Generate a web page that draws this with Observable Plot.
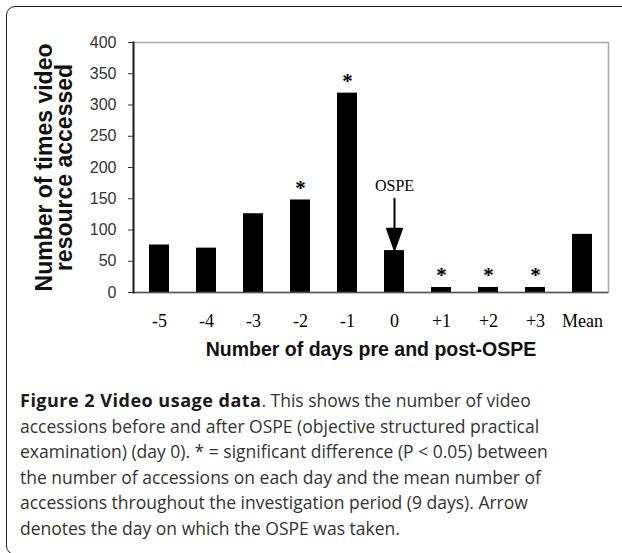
<!DOCTYPE html>
<html>
<head>
<meta charset="utf-8">
<script src="https://cdn.jsdelivr.net/npm/d3@7"></script>
<script src="https://cdn.jsdelivr.net/npm/@observablehq/plot@0.6"></script>
<style>
  html, body { margin: 0; padding: 0; background: #fff; }
  body { width: 622px; height: 553px; overflow: hidden; position: relative; }
  #frame { position: absolute; left: 6px; top: 6px; width: 700px; height: 549px;
           border: 1.5px solid #222; border-radius: 9px; box-sizing: border-box; }
  #chart { position: absolute; left: 0; top: 0; }
  #caption { position: absolute; left: 20px; top: 388px; font-family: "Open Sans", sans-serif;
             font-size: 17.5px; line-height: 25.5px; color: #333; white-space: nowrap; }
  #caption b { color: #1a1a1a; font-size: 18px; letter-spacing: 0.5px; }
</style>
</head>
<body>
<div id="frame"></div>
<div id="chart"></div>
<div id="caption"><b>Figure 2 Video usage data</b>. This shows the number of video<br>accessions before and after OSPE (objective structured practical<br>examination) (day 0). * = significant difference (P &lt; 0.05) between<br>the number of accessions on each day and the mean number of<br>accessions throughout the investigation period (9 days). Arrow<br>denotes the day on which the OSPE was taken.</div>
<script>
const days = ["-5", "-4", "-3", "-2", "-1", "0", "+1", "+2", "+3", "Mean"];
const accesses = [76, 71, 126, 148, 319, 67, 8, 8, 8, 93];
const significantDays = ["-2", "-1", "+1", "+2", "+3"];
const yTicks = [0, 50, 100, 150, 200, 250, 300, 350, 400];
const examDay = "0";
const examLabel = "OSPE";
const yTitle = "Number of times video\nresource accessed";
const xTitle = "Number of days pre and post-OSPE";

const data = days.map((d, i) => ({day: d, count: accesses[i]}));
const starred = data.filter(d => significantDays.includes(d.day));
const exam = data.filter(d => d.day === examDay);

const arrowShape = {
  draw(context, l) {
    const hl = 21, hw = 7.5;
    context.moveTo(0, 0);
    context.lineTo(0, -l + hl);
    context.moveTo(-hw, -l + hl);
    context.lineTo(0, -l);
    context.lineTo(hw, -l + hl);
    context.closePath();
  }
};

const chart = Plot.plot({
  width: 622,
  height: 380,
  marginLeft: 133,
  marginRight: 14,
  marginTop: 42,
  marginBottom: 88,
  style: {background: "transparent", overflow: "visible"},
  x: {domain: days, paddingInner: 0.58, paddingOuter: 0.29, align: 0.5},
  y: {domain: [0, 400]},
  marks: [
    Plot.frame({stroke: "#aaa", strokeWidth: 1.5}),
    Plot.barY(data, {x: "day", y: "count", fill: "black"}),
    Plot.ruleY([0], {stroke: "#555", strokeWidth: 1.5}),
    Plot.frame({anchor: "left", stroke: "#222", strokeWidth: 2}),
    Plot.axisY({ticks: yTicks, tickSize: 5, tickPadding: 12, fontSize: 16,
                fontFamily: "Liberation Sans", fill: "#333", stroke: "#333", label: null}),
    Plot.axisX({tickSize: 0, tickPadding: 22, fontSize: 18, fontFamily: "Liberation Serif",
                fill: "black", label: null}),
    Plot.text(starred, {x: "day", y: "count", text: () => "*", dy: -12, fontSize: 21,
                        fontWeight: "bold", fontFamily: "Liberation Serif", fill: "black"}),
    Plot.text(exam, {x: "day", y: "count", text: () => examLabel, dy: -65, fontSize: 16,
                     fontFamily: "Liberation Serif", fill: "black"}),
    Plot.vector(exam, {x: "day", y: "count", length: 51, rotate: 180, anchor: "end",
                       shape: arrowShape, stroke: "black", fill: "black", strokeWidth: 2, dy: -1}),
    Plot.text([yTitle], {frameAnchor: "left", textAnchor: "middle", rotate: -90, dx: -78, dy: 0,
                         fontSize: 23, lineHeight: 0.87, fontWeight: "bold",
                         fontFamily: "Liberation Sans", fill: "#111"}),
    Plot.text([xTitle], {frameAnchor: "bottom", dy: 63, fontSize: 19.5, fontWeight: "bold",
                         fontFamily: "Liberation Sans", fill: "#111"})
  ]
});
document.getElementById("chart").appendChild(chart);
</script>
</body>
</html>
